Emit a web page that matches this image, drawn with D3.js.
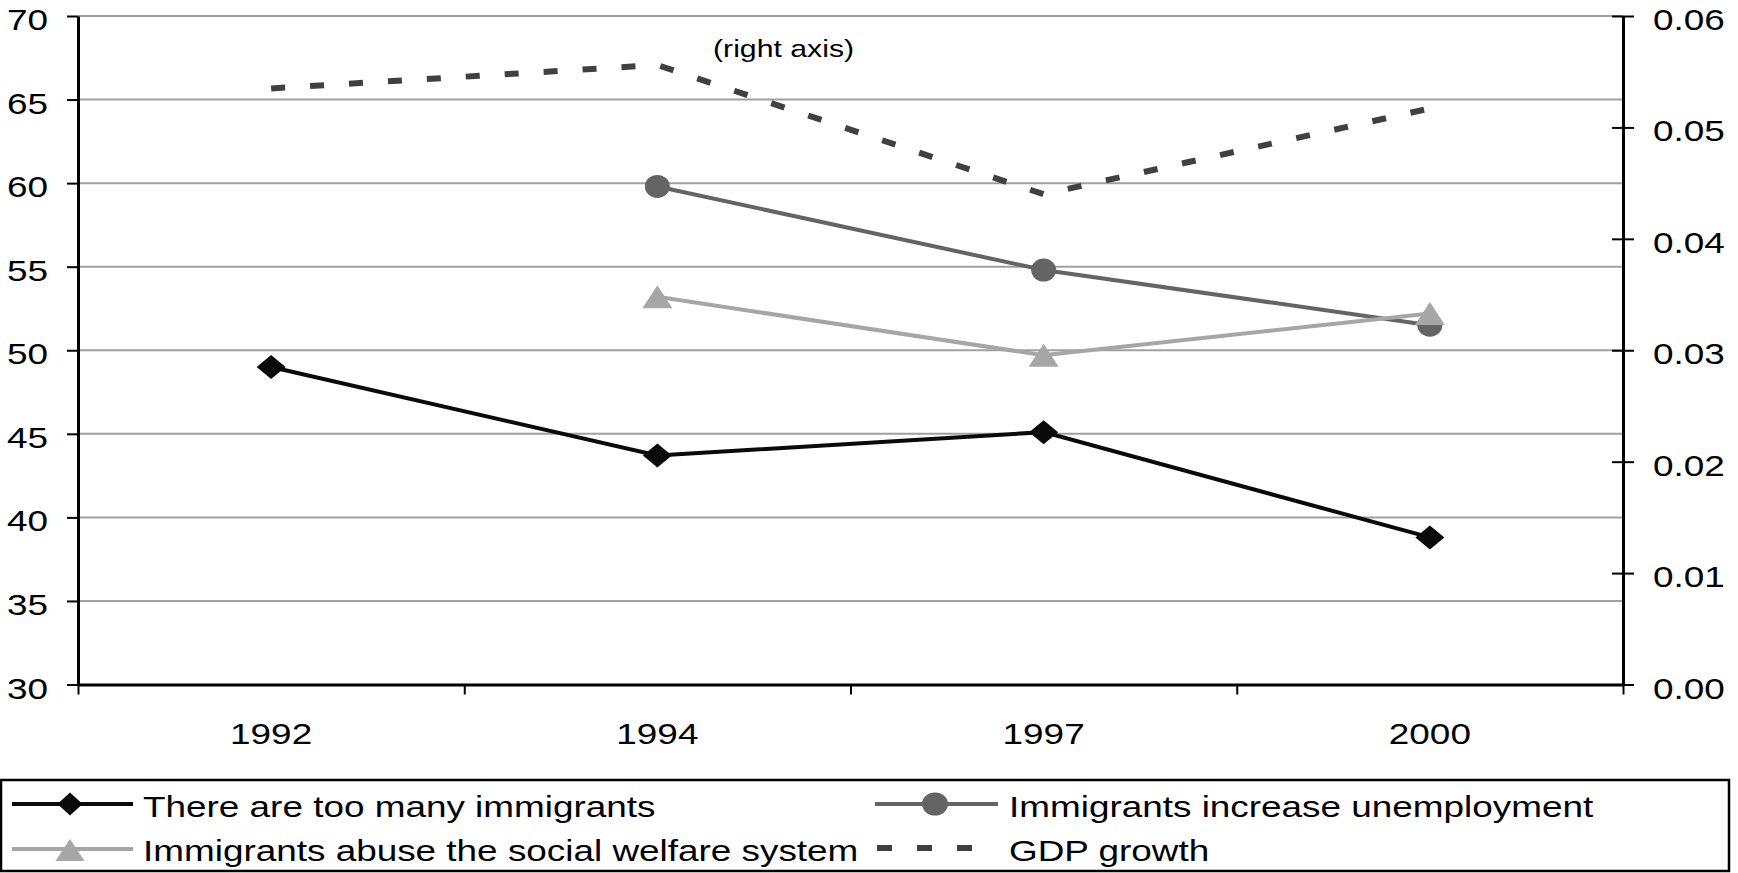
<!DOCTYPE html>
<html>
<head>
<meta charset="utf-8">
<script src="https://cdn.jsdelivr.net/npm/d3@7"></script>
<style>
  html, body { margin: 0; padding: 0; background: #fff; }
  svg { display: block; }
  text { font-family: "Liberation Sans", Arial, Helvetica, sans-serif; fill: #000; }
</style>
</head>
<body>
<svg id="chart" width="1738" height="873"></svg>
<script>
// Survey years and attitude shares (percent, left axis)
const years = ["1992", "1994", "1997", "2000"];
const tooManyImmigrants = [49.0, 43.7, 45.1, 38.8];
const increaseUnemployment = [null, 59.8, 54.8, 51.5];
const abuseWelfare = [null, 53.2, 49.7, 52.2];
// GDP growth (right axis)
const gdpGrowth = [0.0535, 0.0556, 0.0440, 0.0517];

const leftTicks = [30, 35, 40, 45, 50, 55, 60, 65, 70];
const rightTicks = [0, 0.01, 0.02, 0.03, 0.04, 0.05, 0.06];

const legendLabels = [
  "There are too many immigrants",
  "Immigrants increase unemployment",
  "Immigrants abuse the social welfare system",
  "GDP growth"
];
const rightAxisNote = "(right axis)";

// ---- layout ----
const plot = { left: 78, right: 1623, top: 16, bottom: 684.5 };
const STRETCH = 1.23;          // wide lettering used throughout
const FONT = 30;

const svg = d3.select("#chart");

const x = d3.scaleBand().domain(years).range([plot.left, plot.right]).padding(0);
const xBound = d3.scaleLinear().domain([0, years.length]).range([plot.left, plot.right]);
const yL = d3.scaleLinear().domain([30, 70]).range([plot.bottom, plot.top]);
const yR = d3.scaleLinear().domain([0, 0.06]).range([plot.bottom, plot.top]);
const cx = (i) => x(years[i]) + x.bandwidth() / 2;

// horizontal gridlines
svg.append("g")
  .selectAll("line")
  .data(leftTicks.filter(t => t !== 30))
  .join("line")
  .attr("x1", plot.left).attr("x2", plot.right)
  .attr("y1", d => yL(d)).attr("y2", d => yL(d))
  .attr("stroke", "#a0a0a0").attr("stroke-width", 2);

// stretch helper for text drawn by axes
function widen(sel, dx, dy) {
  sel.each(function () {
    const t = d3.select(this);
    t.attr("x", 0).attr("dy", null).attr("y", 0)
     .attr("transform", `translate(${dx},${dy}) scale(${STRETCH},1)`);
  });
}

// left axis
const gL = svg.append("g").attr("transform", `translate(${plot.left},0)`)
  .call(d3.axisLeft(yL).tickValues(leftTicks).tickSize(11).tickSizeOuter(0).tickPadding(19));
gL.select(".domain").attr("stroke", "#000").attr("stroke-width", 3);
gL.selectAll(".tick line").attr("stroke", "#000").attr("stroke-width", 2);
gL.selectAll(".tick text").attr("font-size", FONT).attr("font-family", null)
  .call(widen, -30, 13.5);

// right axis
const gR = svg.append("g").attr("transform", `translate(${plot.right},0)`)
  .call(d3.axisRight(yR).tickValues(rightTicks).tickSize(11).tickSizeOuter(0)
        .tickPadding(19).tickFormat(d3.format(".2f")));
gR.select(".domain").attr("stroke", "#000").attr("stroke-width", 3);
gR.selectAll(".tick line").attr("x1", -11).attr("stroke", "#000").attr("stroke-width", 2);
gR.selectAll(".tick text").attr("font-size", FONT).attr("font-family", null)
  .call(widen, 30, 13.5);

// bottom axis: tick marks on category boundaries, labels centred in each band
const gB = svg.append("g").attr("transform", `translate(0,${plot.bottom})`)
  .call(d3.axisBottom(xBound).ticks(years.length).tickSize(10).tickSizeOuter(0).tickFormat(""));
gB.select(".domain").attr("stroke", "#000").attr("stroke-width", 3);
gB.selectAll(".tick line").attr("stroke", "#000").attr("stroke-width", 2);

const gX = svg.append("g").attr("transform", `translate(0,${plot.bottom})`)
  .call(d3.axisBottom(x).tickSize(0).tickSizeOuter(0));
gX.select(".domain").remove();
gX.selectAll(".tick text").attr("font-size", FONT).attr("font-family", null)
  .call(widen, 0, 59);

// ---- series ----
const lineL = d3.line().defined(d => d != null).x((d, i) => cx(i)).y(d => yL(d));
const lineR = d3.line().x((d, i) => cx(i)).y(d => yR(d));

// GDP growth (dashed, right axis)
svg.append("path").datum(gdpGrowth)
  .attr("d", lineR).attr("fill", "none")
  .attr("stroke", "#404040").attr("stroke-width", 6)
  .attr("stroke-dasharray", "14,25").attr("stroke-linecap", "butt");

const diamond = (w, h) => `M0,${-h}L${w},0L0,${h}L${-w},0Z`;
const triangle = (w, h) => `M0,${-h}L${w},${h}L${-w},${h}Z`;

// too many immigrants
svg.append("path").datum(tooManyImmigrants)
  .attr("d", lineL).attr("fill", "none").attr("stroke", "#0a0a0a").attr("stroke-width", 4);
svg.append("g").selectAll("path")
  .data(tooManyImmigrants.map((v, i) => ({ v, i })).filter(d => d.v != null))
  .join("path")
  .attr("d", diamond(14.5, 12))
  .attr("transform", d => `translate(${cx(d.i)},${yL(d.v)})`)
  .attr("fill", "#0a0a0a");

// increase unemployment
svg.append("path").datum(increaseUnemployment)
  .attr("d", lineL).attr("fill", "none").attr("stroke", "#646464").attr("stroke-width", 4);
svg.append("g").selectAll("ellipse")
  .data(increaseUnemployment.map((v, i) => ({ v, i })).filter(d => d.v != null))
  .join("ellipse")
  .attr("cx", d => cx(d.i)).attr("cy", d => yL(d.v))
  .attr("rx", 12.5).attr("ry", 11.5)
  .attr("fill", "#646464");

// abuse welfare system
svg.append("path").datum(abuseWelfare)
  .attr("d", lineL).attr("fill", "none").attr("stroke", "#a6a6a6").attr("stroke-width", 4);
svg.append("g").selectAll("path")
  .data(abuseWelfare.map((v, i) => ({ v, i })).filter(d => d.v != null))
  .join("path")
  .attr("d", triangle(15, 11.5))
  .attr("transform", d => `translate(${cx(d.i)},${yL(d.v)})`)
  .attr("fill", "#a6a6a6");

// note for the GDP line
svg.append("text")
  .attr("transform", `translate(713,57) scale(1.26,1)`)
  .attr("font-size", 24)
  .text(rightAxisNote);

// ---- legend ----
const lg = svg.append("g");
lg.append("rect")
  .attr("x", 1).attr("y", 780).attr("width", 1728).attr("height", 91)
  .attr("fill", "#fff").attr("stroke", "#000").attr("stroke-width", 2.5);

const legendItems = [
  { label: legendLabels[0], col: 0, row: 0, color: "#0a0a0a", marker: "diamond" },
  { label: legendLabels[1], col: 1, row: 0, color: "#646464", marker: "circle" },
  { label: legendLabels[2], col: 0, row: 1, color: "#a6a6a6", marker: "triangle" },
  { label: legendLabels[3], col: 1, row: 1, color: "#404040", marker: "dash" }
];
const colX = [{ l0: 12, l1: 133, m: 70, t: 143 }, { l0: 875, l1: 998, m: 935, t: 1009 }];
const rowY = [{ y: 804, b: 817 }, { y: 849, b: 861 }];

legendItems.forEach(it => {
  const c = colX[it.col], r = rowY[it.row];
  if (it.marker === "dash") {
    lg.append("line")
      .attr("x1", 877).attr("x2", 975).attr("y1", r.y - 1).attr("y2", r.y - 1)
      .attr("stroke", it.color).attr("stroke-width", 6).attr("stroke-dasharray", "15,25");
  } else {
    lg.append("line")
      .attr("x1", c.l0).attr("x2", c.l1).attr("y1", r.y).attr("y2", r.y)
      .attr("stroke", it.color).attr("stroke-width", 4);
    if (it.marker === "diamond") {
      lg.append("path").attr("d", diamond(12.5, 11.5))
        .attr("transform", `translate(${c.m},${r.y})`).attr("fill", it.color);
    } else if (it.marker === "circle") {
      lg.append("ellipse").attr("cx", c.m).attr("cy", r.y).attr("rx", 13).attr("ry", 11.5)
        .attr("fill", it.color);
    } else {
      lg.append("path").attr("d", triangle(14.5, 11))
        .attr("transform", `translate(${c.m},${r.y + 1})`).attr("fill", it.color);
    }
  }
  lg.append("text")
    .attr("transform", `translate(${c.t},${r.b}) scale(${STRETCH},1)`)
    .attr("font-size", FONT)
    .text(it.label);
});
</script>
</body>
</html>
